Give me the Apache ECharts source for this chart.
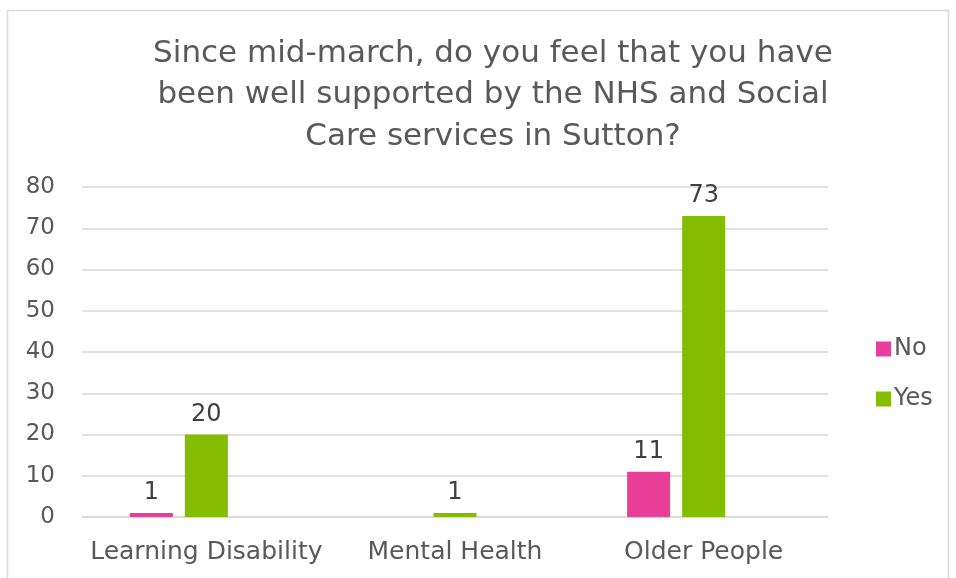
<!DOCTYPE html>
<html>
<head>
<meta charset="utf-8">
<script src="https://cdn.jsdelivr.net/npm/echarts@6/dist/echarts.min.js"></script>
<style>
  html, body { margin: 0; padding: 0; background: #fff; }
  #chart { width: 956px; height: 578px; }
</style>
</head>
<body>
<div id="chart"></div>
<script>
// Survey responses by service group
const categories = ['Learning Disability', 'Mental Health', 'Older People'];
const noValues = [1, null, 11];
const yesValues = [20, 1, 73];
const spacerValues = [null, null, null];
const yTicks = { min: 0, max: 80, interval: 10 };

const FONT = '"DejaVu Sans", sans-serif';

const chart = echarts.init(document.getElementById('chart'), null, { renderer: 'canvas' });

const valueLabel = {
  show: true,
  position: 'top',
  distance: 8,
  color: '#404040',
  fontSize: 24,
  fontFamily: FONT
};

chart.setOption({
  animation: false,
  backgroundColor: '#ffffff',
  title: {
    text: 'Since mid-march, do you feel that you have\nbeen well supported by the NHS and Social\nCare services in Sutton?',
    left: 488,
    top: 28,
    textAlign: 'center',
    textStyle: {
      color: '#595959',
      fontSize: 31,
      fontWeight: 'normal',
      lineHeight: 41.5,
      fontFamily: FONT
    }
  },
  graphic: [{
    type: 'rect',
    shape: { x: 7.5, y: 10.5, width: 941, height: 600 },
    style: { fill: 'none', stroke: '#d9d9d9', lineWidth: 1.5 },
    silent: true
  }],
  legend: {
    data: ['No', 'Yes'],
    orient: 'vertical',
    left: 871,
    top: 332,
    itemWidth: 15,
    itemHeight: 15,
    itemGap: 26,
    icon: 'rect',
    textStyle: { color: '#595959', fontSize: 24, fontFamily: FONT, padding: [0, 0, 0, -2] }
  },
  grid: { left: 82, right: 128, top: 187, bottom: 61, containLabel: false },
  xAxis: {
    type: 'category',
    data: categories,
    axisLine: { show: true, lineStyle: { color: '#d9d9d9', width: 1.5 } },
    axisTick: { show: false },
    axisLabel: { color: '#595959', fontSize: 25, fontFamily: FONT, margin: 23, interval: 0 }
  },
  yAxis: {
    type: 'value',
    min: yTicks.min,
    max: yTicks.max,
    interval: yTicks.interval,
    axisLine: { show: false },
    axisTick: { show: false },
    splitLine: { lineStyle: { color: '#d9d9d9', width: 1.5 } },
    axisLabel: { color: '#595959', fontSize: 23, fontFamily: FONT, margin: 27 }
  },
  series: [
    {
      name: 'No', type: 'bar', data: noValues,
      barWidth: 43, barGap: '28%',
      itemStyle: { color: '#e83e97' },
      label: valueLabel
    },
    {
      name: 'Yes', type: 'bar', data: yesValues,
      barWidth: 43, barGap: '28%',
      itemStyle: { color: '#84bd00' },
      label: valueLabel
    },
    {
      name: 'blank', type: 'bar', data: spacerValues,
      barWidth: 43, barGap: '28%',
      itemStyle: { color: 'transparent' }
    }
  ]
});
</script>
</body>
</html>
